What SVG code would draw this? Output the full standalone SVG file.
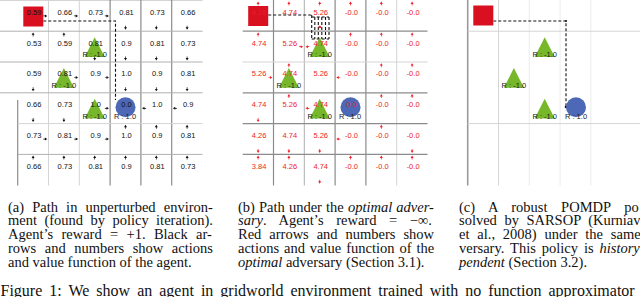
<svg xmlns="http://www.w3.org/2000/svg" width="640" height="297" viewBox="0 0 640 297">
<style>
.v{font-family:"Liberation Sans",Arial,sans-serif;font-size:7.5px;text-anchor:middle}
.va{fill:#111}
.vb{fill:#ee1c24}
.r{font-family:"Liberation Sans",Arial,sans-serif;font-size:7.5px;text-anchor:middle;fill:#1a1a1a}
.cap{font-family:"Liberation Serif","Times New Roman",serif;font-size:14.5px;fill:#111}
.fig{font-family:"Liberation Serif","Times New Roman",serif;font-size:16px;fill:#111}
.i{font-style:italic}
.gd{stroke:#8c8c8c;stroke-width:1.2}
.gm{stroke:#b0b0b0;stroke-width:1}
.gl{stroke:#d4d4d4;stroke-width:1}
.gx{stroke:#ececec;stroke-width:1}
.pth{fill:none;stroke:#111;stroke-width:1.1;stroke-dasharray:3 2}
.sq{fill:#d81020}
.tri{fill:#76b82a}
.goal{fill:#4d68b6}
</style>
<defs>
<path id="aU" d="M0,-1.8 L1.5,0.6 L-1.5,0.6 Z M-0.35,0.6 h0.7 v1.6 h-0.7 Z"/>
<path id="aD" d="M0,1.8 L1.5,-0.6 L-1.5,-0.6 Z M-0.35,-0.6 h0.7 v-1.6 h-0.7 Z"/>
<path id="aR" d="M1.8,0 L-0.6,1.5 L-0.6,-1.5 Z M-0.6,-0.35 v0.7 h-1.6 v-0.7 Z"/>
<path id="aL" d="M-1.8,0 L0.6,1.5 L0.6,-1.5 Z M0.6,-0.35 v0.7 h1.6 v-0.7 Z"/>
</defs>
<rect width="640" height="297" fill="#fff"/>

<!-- grids -->
<g id="grid-a">
<line class="gl" x1="0" y1="0.5" x2="202.5" y2="0.5"/>
<line class="gd" x1="17.7" y1="100" x2="17.7" y2="185.5"/>
<line class="gl" x1="48.5" y1="0" x2="48.5" y2="185.5"/>
<line class="gl" x1="79.3" y1="0" x2="79.3" y2="185.5"/>
<line class="gd" x1="110.1" y1="0" x2="110.1" y2="185.5"/>
<line class="gd" x1="140.9" y1="0" x2="140.9" y2="185.5"/>
<line class="gd" x1="171.7" y1="0" x2="171.7" y2="185.5"/>
<line class="gm" x1="0" y1="31.2" x2="202.5" y2="31.2"/>
<line class="gm" x1="0" y1="62" x2="202.5" y2="62"/>
<line class="gm" x1="0" y1="92.8" x2="202.5" y2="92.8"/>
<line class="gl" x1="17.7" y1="123.6" x2="202.5" y2="123.6"/>
<line class="gm" x1="17.7" y1="154.4" x2="202.5" y2="154.4"/>
</g>
<g id="grid-b">
<line class="gd" x1="273.5" y1="0" x2="273.5" y2="185.5"/>
<line class="gm" x1="304.3" y1="0" x2="304.3" y2="185.5"/>
<line class="gd" x1="335.1" y1="0" x2="335.1" y2="185.5"/>
<line class="gd" x1="365.9" y1="0" x2="365.9" y2="185.5"/>
<line class="gl" x1="396.7" y1="0" x2="396.7" y2="185.5"/>
<line class="gd" x1="242.7" y1="31.2" x2="427.5" y2="31.2"/>
<line class="gl" x1="242.7" y1="62" x2="427.5" y2="62"/>
<line class="gd" x1="242.7" y1="92.8" x2="427.5" y2="92.8"/>
<line class="gd" x1="242.7" y1="123.6" x2="427.5" y2="123.6"/>
<line class="gd" x1="242.7" y1="154.4" x2="427.5" y2="154.4"/>
</g>
<g id="grid-c">
<line stroke="#999" stroke-width="1.6" x1="467.7" y1="0" x2="467.7" y2="185.5"/>
<line class="gl" x1="498.5" y1="0" x2="498.5" y2="185.5"/>
<line class="gx" x1="529.3" y1="0" x2="529.3" y2="185.5"/>
<line class="gx" x1="560.1" y1="0" x2="560.1" y2="185.5"/>
<line class="gx" x1="590.9" y1="0" x2="590.9" y2="185.5"/>
<line class="gl" x1="467.7" y1="31.2" x2="640" y2="31.2"/>
<line class="gl" x1="467.7" y1="123.6" x2="640" y2="123.6"/>
</g>

<!-- connectors: agent paths -->
<g id="connectors">
<path class="pth" d="M43.3,21 H115.5 V100"/>
<path class="pth" d="M268.2,15 H311.7"/>
<path class="pth" d="M311.7,15 V39 M314.8,17 V39 M318.3,17 V39 M321.8,17 V39 M325.5,17 V39 M329,17 V39 M311.7,17 H329 M311.7,39 H329"/>
<circle cx="319.7" cy="27" r="1.3" fill="#ee1c24"/>
<path class="pth" d="M493.3,21 H566 V107"/>
<circle cx="566" cy="21" r="1" fill="#111"/>
<circle cx="566" cy="107" r="1.3" fill="#111"/>
</g>

<!-- panel a nodes -->
<g id="a-start"><rect class="sq" x="23.3" y="6.5" width="20" height="20"/></g>
<g id="a-trap1"><polygon class="tri" points="94.7,37.2 84.7,57 104.7,57"/></g>
<g id="a-trap2"><polygon class="tri" points="63.9,68 53.9,87.8 73.9,87.8"/></g>
<g id="a-trap3"><polygon class="tri" points="94.7,98.8 84.7,118.6 104.7,118.6"/></g>
<g id="a-goal"><circle class="goal" cx="125.5" cy="107.3" r="10"/></g>
<g id="a-values" class="v va">
<text x="34.1" y="14.7">0.59</text><text x="64.9" y="14.7">0.66</text><text x="95.7" y="14.7">0.73</text><text x="126.5" y="14.7">0.81</text><text x="157.3" y="14.7">0.73</text><text x="188.1" y="14.7">0.66</text>
<text x="34.1" y="45.5">0.53</text><text x="64.9" y="45.5">0.59</text><text x="95.7" y="45.5">0.81</text><text x="126.5" y="45.5">0.9</text><text x="157.3" y="45.5">0.81</text><text x="188.1" y="45.5">0.73</text>
<text x="34.1" y="76.3">0.59</text><text x="64.9" y="76.3">0.81</text><text x="95.7" y="76.3">0.9</text><text x="126.5" y="76.3">1.0</text><text x="157.3" y="76.3">0.9</text><text x="188.1" y="76.3">0.81</text>
<text x="34.1" y="107.1">0.66</text><text x="64.9" y="107.1">0.73</text><text x="95.7" y="107.1">1.0</text><text x="126.5" y="107.1">0.0</text><text x="157.3" y="107.1">1.0</text><text x="188.1" y="107.1">0.9</text>
<text x="34.1" y="137.9">0.73</text><text x="64.9" y="137.9">0.81</text><text x="95.7" y="137.9">0.9</text><text x="126.5" y="137.9">1.0</text><text x="157.3" y="137.9">0.9</text><text x="188.1" y="137.9">0.81</text>
<text x="34.1" y="168.7">0.66</text><text x="64.9" y="168.7">0.73</text><text x="95.7" y="168.7">0.81</text><text x="126.5" y="168.7">0.9</text><text x="157.3" y="168.7">0.81</text><text x="188.1" y="168.7">0.73</text>
</g>
<g id="a-rewards" class="r">
<text x="94.7" y="57.4">R : -1.0</text><text x="63.9" y="88.2">R : -1.0</text><text x="94.7" y="119">R : -1.0</text><text x="125" y="119">R : 1.0</text>
</g>
<g id="a-arrows" fill="#111">
<use href="#aR" x="45.5" y="15.9"/><use href="#aR" x="76.3" y="15.9"/><use href="#aR" x="107.1" y="15.9"/><use href="#aD" x="125.5" y="27.9"/><use href="#aD" x="156.3" y="27.9"/><use href="#aD" x="187.1" y="27.9"/>
<use href="#aU" x="33.1" y="34.2"/><use href="#aU" x="63.9" y="34.2"/><use href="#aD" x="94.7" y="58.7"/><use href="#aD" x="125.5" y="58.7"/><use href="#aD" x="156.3" y="58.7"/><use href="#aD" x="187.1" y="58.7"/>
<use href="#aD" x="33.1" y="89.5"/><use href="#aR" x="76.3" y="77.5"/><use href="#aR" x="107.1" y="77.5"/><use href="#aD" x="125.5" y="89.5"/><use href="#aD" x="156.3" y="89.5"/><use href="#aD" x="187.1" y="89.5"/>
<use href="#aD" x="33.1" y="120.3"/><use href="#aD" x="63.9" y="120.3"/><use href="#aR" x="107.1" y="108.3"/><use href="#aL" x="143.9" y="108.3"/><use href="#aL" x="174.7" y="108.3"/>
<use href="#aR" x="45.5" y="139.1"/><use href="#aR" x="76.3" y="139.1"/><use href="#aR" x="107.1" y="139.1"/><use href="#aU" x="125.5" y="126.6"/><use href="#aU" x="156.3" y="126.6"/><use href="#aU" x="187.1" y="126.6"/>
<use href="#aU" x="33.1" y="157.4"/><use href="#aU" x="63.9" y="157.4"/><use href="#aU" x="94.7" y="157.4"/><use href="#aU" x="125.5" y="157.4"/><use href="#aU" x="156.3" y="157.4"/><use href="#aU" x="187.1" y="157.4"/>
</g>

<!-- panel b nodes -->
<g id="b-start"><rect class="sq" x="248.2" y="6" width="20" height="20"/></g>
<g id="b-trap1"><polygon class="tri" points="319.7,37.2 309.7,57 329.7,57"/></g>
<g id="b-trap2"><polygon class="tri" points="288.9,68 278.9,87.8 298.9,87.8"/></g>
<g id="b-trap3"><polygon class="tri" points="319.7,98.8 309.7,118.6 329.7,118.6"/></g>
<g id="b-goal"><circle class="goal" cx="350.5" cy="107.3" r="10"/></g>
<g id="b-values" class="v vb">
<text x="259.1" y="14.7">4.26</text><text x="289.9" y="14.7">4.74</text><text x="320.7" y="14.7">5.26</text><text x="351.5" y="14.7">-0.0</text><text x="382.3" y="14.7">-0.0</text><text x="413.1" y="14.7">-0.0</text>
<text x="259.1" y="45.5">4.74</text><text x="289.9" y="45.5">5.26</text><text x="320.7" y="45.5">4.74</text><text x="351.5" y="45.5">-0.0</text><text x="382.3" y="45.5">-0.0</text><text x="413.1" y="45.5">-0.0</text>
<text x="259.1" y="76.3">5.26</text><text x="289.9" y="76.3">4.74</text><text x="320.7" y="76.3">5.26</text><text x="351.5" y="76.3">-0.0</text><text x="382.3" y="76.3">-0.0</text><text x="413.1" y="76.3">-0.0</text>
<text x="259.1" y="107.1">4.74</text><text x="289.9" y="107.1">5.26</text><text x="320.7" y="107.1">4.74</text><text x="351.5" y="107.1">0.0</text><text x="382.3" y="107.1">-0.0</text><text x="413.1" y="107.1">-0.0</text>
<text x="259.1" y="137.9">4.26</text><text x="289.9" y="137.9">4.74</text><text x="320.7" y="137.9">5.26</text><text x="351.5" y="137.9">-0.0</text><text x="382.3" y="137.9">-0.0</text><text x="413.1" y="137.9">-0.0</text>
<text x="259.1" y="168.7">3.84</text><text x="289.9" y="168.7">4.26</text><text x="320.7" y="168.7">4.74</text><text x="351.5" y="168.7">-0.0</text><text x="382.3" y="168.7">-0.0</text><text x="413.1" y="168.7">-0.0</text>
</g>
<g id="b-rewards" class="r">
<text x="319.7" y="57.4">R : -1.0</text><text x="288.9" y="88.2">R : -1.0</text><text x="319.7" y="119">R : -1.0</text><text x="350" y="119">R : 1.0</text>
</g>
<g id="b-arrows" fill="#ee1c24">
<use href="#aU" x="258.1" y="3.4"/><use href="#aU" x="288.9" y="3.4"/><use href="#aU" x="319.7" y="3.4"/><use href="#aU" x="350.5" y="3.4"/><use href="#aU" x="381.3" y="3.4"/><use href="#aU" x="412.1" y="3.4"/>
<use href="#aU" x="258.1" y="34.2"/><use href="#aR" x="301.3" y="46.7"/><use href="#aL" x="307.3" y="46.7"/><use href="#aU" x="350.5" y="34.2"/><use href="#aU" x="381.3" y="34.2"/><use href="#aU" x="412.1" y="34.2"/>
<use href="#aR" x="270.5" y="77.5"/><use href="#aU" x="288.9" y="65"/><use href="#aL" x="338.1" y="77.5"/><use href="#aU" x="381.3" y="65"/><use href="#aU" x="412.1" y="65"/>
<use href="#aD" x="258.1" y="120.3"/><use href="#aU" x="288.9" y="95.8"/><use href="#aL" x="307.3" y="108.3"/><use href="#aU" x="381.3" y="95.8"/><use href="#aU" x="412.1" y="95.8"/>
<use href="#aD" x="258.1" y="151.1"/><use href="#aD" x="288.9" y="151.1"/><use href="#aD" x="319.7" y="151.1"/><use href="#aL" x="338.1" y="139.1"/><use href="#aU" x="381.3" y="126.6"/><use href="#aD" x="412.1" y="151.1"/>
<use href="#aU" x="258.1" y="157.4"/><use href="#aU" x="288.9" y="157.4"/><use href="#aD" x="319.7" y="181.9"/><use href="#aU" x="350.5" y="157.4"/><use href="#aU" x="381.3" y="157.4"/><use href="#aU" x="412.1" y="157.4"/>
</g>

<!-- panel c nodes -->
<g id="c-start"><rect class="sq" x="473.3" y="5.5" width="20" height="20"/></g>
<g id="c-trap1"><polygon class="tri" points="544.7,37.2 534.7,57 554.7,57"/></g>
<g id="c-trap2"><polygon class="tri" points="513.9,68 503.9,87.8 523.9,87.8"/></g>
<g id="c-trap3"><polygon class="tri" points="544.7,98.8 534.7,118.6 554.7,118.6"/></g>
<g id="c-goal"><circle class="goal" cx="576" cy="107.3" r="10"/></g>
<g id="c-rewards" class="r">
<text x="544.7" y="57.4">R : -1.0</text><text x="513.9" y="88.2">R : -1.0</text><text x="544.7" y="119">R : -1.0</text><text x="576" y="119">R : 1.0</text>
</g>

<!-- captions -->
<g id="caption-a" class="cap">
<text x="8" y="211.5" word-spacing="4.5">(a) Path in unperturbed environ-</text>
<text x="8" y="225.2" word-spacing="3.8">ment (found by policy iteration).</text>
<text x="8" y="239" word-spacing="4.7">Agent’s reward = +1. Black ar-</text>
<text x="8" y="252.7" word-spacing="4.9">rows and numbers show actions</text>
<text x="8" y="266.5">and value function of the agent.</text>
</g>
<g id="caption-b" class="cap">
<text x="238" y="211.5" word-spacing="0.5">(b) Path under the <tspan class="i">optimal adver-</tspan></text>
<text x="238" y="225.2" word-spacing="9"><tspan class="i">sary</tspan>. Agent’s reward = −∞.</text>
<text x="238" y="239" word-spacing="4.3">Red arrows and numbers show</text>
<text x="238" y="252.7" word-spacing="1.3">actions and value function of the</text>
<text x="238" y="266.5"><tspan class="i">optimal</tspan> adversary (Section 3.1).</text>
</g>
<g id="caption-c" class="cap">
<text x="459" y="211.5" word-spacing="10">(c) A robust POMDP po</text>
<text x="459" y="225.2" word-spacing="3.9">solved by SARSOP (Kurniav</text>
<text x="459" y="239" word-spacing="4.2">et al., 2008) under the same</text>
<text x="459" y="252.7" word-spacing="2.3">versary. This policy is <tspan class="i">history</tspan></text>
<text x="459" y="266.5"><tspan class="i">pendent</tspan> (Section 3.2).</text>
</g>
<g id="figure-caption" class="fig">
<text x="0.5" y="295.5" word-spacing="3">Figure 1: We show an agent in gridworld environment trained with no function approximator</text>
</g>
</svg>
